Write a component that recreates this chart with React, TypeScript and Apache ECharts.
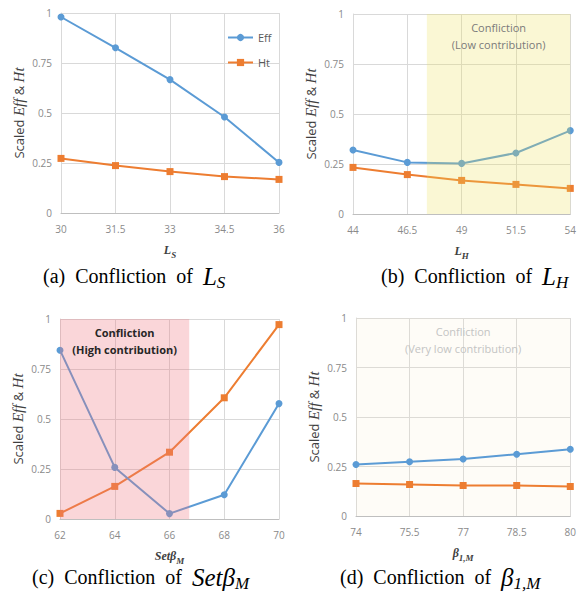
import React, { useEffect, useRef } from "react";
import * as echarts from "echarts";

// ---- data ----
const xA = ["30", "31.5", "33", "34.5", "36"];
const effA = [0.98, 0.826, 0.667, 0.48, 0.253];
const htA = [0.273, 0.237, 0.207, 0.182, 0.168];

const xB = ["44", "46.5", "49", "51.5", "54"];
const effB = [0.32, 0.258, 0.253, 0.305, 0.417];
const htB = [0.233, 0.197, 0.168, 0.148, 0.128];

const xC = ["62", "64", "66", "68", "70"];
const effC = [0.844, 0.258, 0.027, 0.121, 0.577];
const htC = [0.028, 0.163, 0.334, 0.606, 0.972];

const xD = ["74", "75.5", "77", "78.5", "80"];
const effD = [0.26, 0.274, 0.288, 0.312, 0.337];
const htD = [0.164, 0.159, 0.154, 0.154, 0.149];

const yTicks = [0, 0.25, 0.5, 0.75, 1];

// shaded regions in real x units
const regionB = [47.4, 54];
const regionC = [62, 66.72];
const regionD = [74, 80];

const captions = ["(a)", "(b)", "(c)", "(d)"];

const EFF = "#5B9BD5";
const HT = "#ED7D31";
const SANS = "'Open Sans', sans-serif";
const SERIF = "'Liberation Serif', serif";

function toIdx(v: number, xs: string[]) {
  const a = parseFloat(xs[0]);
  const b = parseFloat(xs[xs.length - 1]);
  return ((v - a) / (b - a)) * (xs.length - 1);
}

const pts = (vals: number[]) => vals.map((v, i) => [i, v]);

export default function App() {
  const ref = useRef<HTMLDivElement>(null);
  useEffect(() => {
    const chart = echarts.init(ref.current!, null, { renderer: "svg" });
    const grids = [
      { left: 61, top: 13, width: 218, height: 200 },
      { left: 353, top: 14, width: 220, height: 200 },
      { left: 60, top: 319, width: 219, height: 200 },
      { left: 356, top: 318, width: 218, height: 198 },
    ];
    const xsets = [xA, xB, xC, xD];
    const xNames = [
      "{m|L}{s|S}",
      "{m|L}{s|H}",
      "{m|Setβ}{s|M}",
      "{m|β}{s|1,M}",
    ];
    const xAxis = xsets.map((xs, k) => ({
      type: "value",
      gridIndex: k,
      min: 0,
      max: xs.length - 1,
      interval: 1,
      axisLine: { show: true, lineStyle: { color: "#bfbfbf" } },
      axisTick: { show: false },
      splitLine: { show: true, lineStyle: { color: "#d9d9d9" } },
      axisLabel: {
        formatter: (v: number) => xs[Math.round(v)] ?? "",
        color: "#8a8a8a",
        fontFamily: SANS,
        fontSize: 10,
        margin: 11,
      },
      name: xNames[k],
      nameLocation: "middle",
      nameGap: 28,
      nameTextStyle: {
        rich: {
          m: { fontFamily: SERIF, fontStyle: "italic", fontWeight: "bold", fontSize: 12, color: "#404040", lineHeight: 18 },
          s: { fontFamily: SERIF, fontStyle: "italic", fontWeight: "bold", fontSize: 9, color: "#404040", lineHeight: 10, verticalAlign: "bottom" },
        },
      },
    }));
    const yAxis = grids.map((g, k) => ({
      type: "value",
      gridIndex: k,
      min: 0,
      max: 1,
      interval: 0.25,
      axisLine: { show: true, lineStyle: { color: "#d9d9d9" } },
      axisTick: { show: false },
      splitLine: { show: true, lineStyle: { color: "#d9d9d9" } },
      axisLabel: {
        formatter: (v: number) => (yTicks.includes(v) ? String(v) : ""),
        color: "#8a8a8a",
        fontFamily: SANS,
        fontSize: 10,
        margin: 9,
      },
      name: "Scaled {i|Eff} & {i|Ht}",
      nameLocation: "middle",
      nameRotate: 90,
      nameGap: 35,
      nameTextStyle: {
        fontFamily: SANS,
        fontSize: 13,
        color: "#404040",
        rich: {
          i: { fontFamily: SERIF, fontStyle: "italic", fontSize: 15, color: "#404040" },
        },
      },
    }));

    const effs = [effA, effB, effC, effD];
    const hts = [htA, htB, htC, htD];
    const series: any[] = [];
    for (let k = 0; k < 4; k++) {
      series.push({
        name: "Ht",
        type: "line",
        xAxisIndex: k,
        yAxisIndex: k,
        data: pts(hts[k]),
        symbol: "rect",
        symbolSize: 7,
        lineStyle: { color: HT, width: 2 },
        itemStyle: { color: HT },
        z: 3,
      });
      series.push({
        name: "Eff",
        type: "line",
        xAxisIndex: k,
        yAxisIndex: k,
        data: pts(effs[k]),
        symbol: "circle",
        symbolSize: 7,
        lineStyle: { color: EFF, width: 2 },
        itemStyle: { color: EFF },
        z: 4,
      });
    }
    // shaded regions (overlay)
    const regionSeries = (k: number, reg: number[], color: string, z: number, text: string, label: any) => ({
      type: "line",
      xAxisIndex: k,
      yAxisIndex: k,
      data: [],
      z,
      silent: true,
      markArea: {
        silent: true,
        z,
        itemStyle: { color },
        label: {
          show: true,
          position: "insideTop",
          distance: 5,
          formatter: text,
          fontFamily: SANS,
          fontSize: 11,
          lineHeight: 17,
          align: "center",
          ...label,
        },
        data: [[
          { xAxis: toIdx(reg[0], xsets[k]), yAxis: 0 },
          { xAxis: toIdx(reg[1], xsets[k]), yAxis: 1 },
        ]],
      },
    });
    series.push(regionSeries(1, regionB, "rgba(235,225,90,0.26)", 10, "Confliction\n(Low contribution)", { color: "#7a7a7a" }));
    series.push(regionSeries(2, regionC, "rgba(240,120,130,0.3)", 10, "Confliction\n(High contribution)", { color: "#262626", fontWeight: "bold" }));
    series.push(regionSeries(3, regionD, "rgba(245,238,200,0.15)", 1, "Confliction\n(Very low contribution)", { color: "#c4c4c4" }));

    const capPos = [
      { x: 43, y: 276 },
      { x: 381, y: 276 },
      { x: 32, y: 577 },
      { x: 340, y: 577 },
    ];
    const capMath = [
      "{m|L}{s|S}",
      "{m|L}{s|H}",
      "{m|Setβ}{s|M}",
      "{m|β}{s|1,M}",
    ];
    const graphic = capPos.map((p, k) => ({
      type: "text",
      x: p.x,
      y: p.y,
      z: 100,
      style: {
        text: `{t|${captions[k]}  Confliction  of  }` + capMath[k],
        verticalAlign: "middle",
        align: "left",
        rich: {
          t: { fontFamily: SERIF, fontSize: 20, fill: "#000", lineHeight: 30 },
          m: { fontFamily: SERIF, fontStyle: "italic", fontSize: 25, fill: "#000", lineHeight: 30 },
          s: { fontFamily: SERIF, fontStyle: "italic", fontSize: 17, fill: "#000", lineHeight: 17, verticalAlign: "bottom" },
        },
      },
    }));

    chart.setOption({
      animation: false,
      backgroundColor: "#ffffff",
      grid: grids.map((g) => ({ ...g, containLabel: false })),
      xAxis,
      yAxis,
      legend: {
        data: ["Eff", "Ht"],
        orient: "vertical",
        left: 222,
        top: 27,
        itemWidth: 25,
        itemHeight: 9,
        itemGap: 14,
        textStyle: { fontFamily: SANS, fontSize: 11, color: "#595959" },
      },
      series,
      graphic,
    });
    return () => chart.dispose();
  }, []);
  return (
    <div
      ref={ref}
      style={{ position: "absolute", left: 0, top: 0, width: 579, height: 597 }}
    />
  );
}
